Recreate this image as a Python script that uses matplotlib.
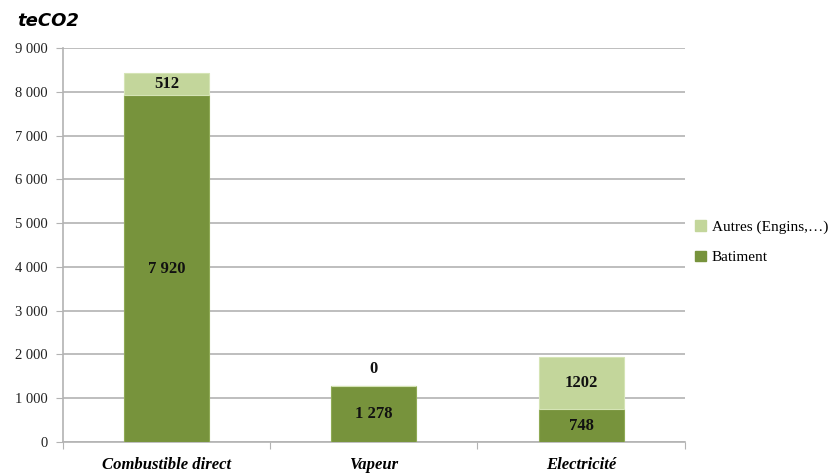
import matplotlib.pyplot as plt
from matplotlib.patches import Patch

# data
categories = ['Combustible direct', 'Vapeur', 'Electricité']
batiment = [7920, 1278, 748]
autres = [512, 0, 1202]
batiment_labels = ['7 920', '1 278', '748']
autres_labels = ['512', '0', '1202']
yticks = [0, 1000, 2000, 3000, 4000, 5000, 6000, 7000, 8000, 9000]
ytick_labels = ['0', '1 000', '2 000', '3 000', '4 000', '5 000', '6 000', '7 000', '8 000', '9 000']

dark = '#77933C'
light = '#C3D69B'
serif = 'Liberation Serif'

fig = plt.figure(figsize=(8.38, 4.73), dpi=100)
ax = fig.add_axes([0.075, 0.0655, 0.742, 0.833])

x = list(range(len(categories)))
ax.bar(x, batiment, width=0.41, color=dark, edgecolor='#8FAA55', linewidth=0.8, zorder=3)
ax.bar(x, autres, width=0.41, bottom=batiment, color=light, edgecolor='#D5E4B5', linewidth=0.8, zorder=3)

for i in x:
    ax.text(i, batiment[i] / 2, batiment_labels[i], ha='center', va='center',
            fontsize=12, fontweight='bold', family=serif, color='#111111', zorder=4)
    if autres[i] > 0:
        yy = batiment[i] + autres[i] / 2
    else:
        yy = batiment[i] + 400
    ax.text(i, yy, autres_labels[i], ha='center', va='center',
            fontsize=12, fontweight='bold', family=serif, color='#111111', zorder=4)

ax.set_xlim(-0.5, 2.5)
ax.set_ylim(0, 9000)
ax.set_yticks(yticks)
ax.set_yticklabels(ytick_labels, family=serif, fontsize=10.5, color='#222222')
ax.yaxis.grid(True, color='#B3B3B3', linewidth=1.2, zorder=0)

ax.set_xticks([-0.5, 0.5, 1.5, 2.5], minor=False)
ax.set_xticklabels([])
ax.set_xticks(x, minor=True)
ax.set_xticklabels(categories, minor=True, family=serif, fontsize=12,
                   fontweight='bold', fontstyle='italic')
ax.tick_params(axis='x', which='minor', length=0, pad=11)
ax.tick_params(axis='x', which='major', length=5, color='#B3B3B3')
ax.tick_params(axis='y', length=5, color='#B3B3B3', pad=6)

for s in ['top', 'right']:
    ax.spines[s].set_visible(False)
ax.spines['left'].set_color('#B3B3B3')
ax.spines['bottom'].set_color('#B3B3B3')
ax.spines['left'].set_linewidth(1.2)
ax.spines['bottom'].set_linewidth(1.2)

fig.text(0.02, 0.955, 'teCO2', fontsize=13, fontweight='bold', fontstyle='italic',
         family='DejaVu Sans', ha='left', va='center')

handles = [Patch(facecolor=light, edgecolor=light), Patch(facecolor=dark, edgecolor=dark)]
leg = fig.legend(handles, ['Autres (Engins,…)', 'Batiment'],
                 loc='upper left', bbox_to_anchor=(0.822, 0.548), frameon=False,
                 prop={'family': serif, 'size': 11}, handlelength=0.7, handleheight=0.7,
                 handletextpad=0.4, labelspacing=1.1, borderaxespad=0)

fig.savefig('out.png', dpi=100)
